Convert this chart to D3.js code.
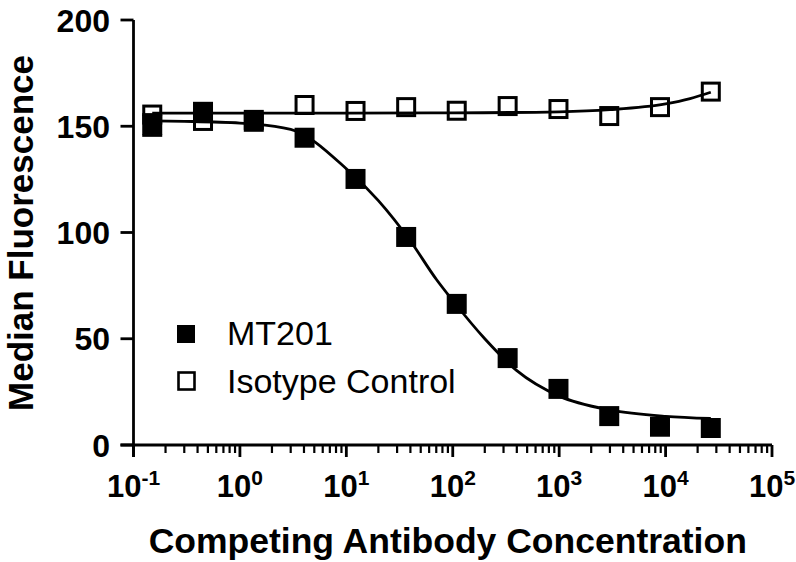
<!DOCTYPE html>
<html>
<head>
<meta charset="utf-8">
<script src="https://cdn.jsdelivr.net/npm/d3@7"></script>
<style>
  body { margin: 0; background: #fff; }
  svg { display: block; }
  text { font-family: "Liberation Sans", Arial, Helvetica, sans-serif; fill: #000; }
</style>
</head>
<body>
<svg id="chart" width="796" height="562"></svg>
<script>
// concentrations (3-fold dilution series)
const concentrations = [0.15, 0.45, 1.35, 4.05, 12.2, 36.5, 109, 328, 985, 2955, 8860, 26600]

// median fluorescence
const mt201 = [150.6, 156.8, 152.1, 144.6, 125.2, 97.9, 66.4, 40.9, 26.4, 13.6, 8.6, 8.0]
const mt201Err = [5, 0, 0, 0, 0, 0, 0, 0, 0, 0, 0, 0]
const isotype = [155.5, 152.5, 153, 160, 157.2, 159, 157.3, 159.5, 158.1, 154.8, 159, 166.3]

// fitted curves
const mt201CurveX = [0.15, 0.3, 1, 3, 10, 20, 40, 70, 100, 200, 400, 1000, 3000, 10000, 26600]
const mt201CurveY = [152.5, 152.3, 151.5, 148.5, 130, 115, 96, 78, 68, 50, 35, 23, 16.5, 13.5, 12.5]
const isoCurveX = [0.15, 1, 10, 100, 1000, 3000, 10000, 17000, 26600]
const isoCurveY = [156.2, 156.2, 156.2, 156.3, 156.8, 157.8, 160.5, 163, 166]

const yTicks = [0, 50, 100, 150, 200]
const xExponents = [-1, 0, 1, 2, 3, 4, 5]

const legendLabels = ["MT201", "Isotype Control"]

const svg = d3.select("#chart")
const margin = { left: 133.5, right: 24, top: 20, bottom: 117 }
const W = 796, H = 562

const x = d3.scaleLog().domain([0.1, 1e5]).range([margin.left, W - margin.right])
const y = d3.scaleLinear().domain([0, 200]).range([H - margin.bottom, margin.top])

// y axis
const yAxis = svg.append("g")
yAxis.append("line")
    .attr("x1", x(0.1)).attr("x2", x(0.1))
    .attr("y1", y(200)).attr("y2", y(0) + 12)
    .attr("stroke", "#000").attr("stroke-width", 2.8)
yAxis.selectAll(".yt")
    .data(yTicks)
    .enter()
    .append("line")
    .attr("x1", x(0.1) - 13).attr("x2", x(0.1))
    .attr("y1", d => y(d)).attr("y2", d => y(d))
    .attr("stroke", "#000").attr("stroke-width", 2.8)
yAxis.selectAll(".yl")
    .data(yTicks)
    .enter()
    .append("text")
    .attr("x", 110)
    .attr("y", d => y(d))
    .attr("dy", "0.36em")
    .attr("text-anchor", "end")
    .attr("font-size", 32)
    .attr("font-weight", "bold")
    .text(d => d)

// x axis
const xAxis = svg.append("g")
xAxis.append("line")
    .attr("x1", x(0.1) - 13).attr("x2", x(1e5))
    .attr("y1", y(0)).attr("y2", y(0))
    .attr("stroke", "#000").attr("stroke-width", 2.8)

let minorTicks = []
for (let e = -1; e < 5; e++) {
    for (let m = 2; m <= 9; m++) minorTicks.push(m * Math.pow(10, e))
}
xAxis.selectAll(".mn")
    .data(minorTicks)
    .enter()
    .append("line")
    .attr("x1", d => x(d)).attr("x2", d => x(d))
    .attr("y1", y(0)).attr("y2", y(0) + 8)
    .attr("stroke", "#000").attr("stroke-width", 2.2)
xAxis.selectAll(".mj")
    .data(xExponents)
    .enter()
    .append("line")
    .attr("x1", d => x(Math.pow(10, d))).attr("x2", d => x(Math.pow(10, d)))
    .attr("y1", y(0)).attr("y2", y(0) + 12)
    .attr("stroke", "#000").attr("stroke-width", 2.8)

const xl = xAxis.selectAll(".xl")
    .data(xExponents)
    .enter()
    .append("text")
    .attr("x", d => x(Math.pow(10, d)))
    .attr("y", 497)
    .attr("text-anchor", "middle")
    .attr("font-weight", "bold")
xl.append("tspan").attr("font-size", 31).text("10")
xl.append("tspan").attr("font-size", 21).attr("dy", -12).text(d => d)

// axis titles
svg.append("text")
    .attr("x", (x(0.1) + x(1e5)) / 2 - 5)
    .attr("y", 553)
    .attr("text-anchor", "middle")
    .attr("font-size", 35.5)
    .attr("font-weight", "bold")
    .text("Competing Antibody Concentration")

svg.append("text")
    .attr("transform", "translate(33," + 233 + ") rotate(-90)")
    .attr("text-anchor", "middle")
    .attr("font-size", 35)
    .attr("font-weight", "bold")
    .text("Median Fluorescence")

// curves
const line = d3.line()
    .x(d => x(d[0]))
    .y(d => y(d[1]))
    .curve(d3.curveMonotoneX)

svg.append("path")
    .datum(d3.zip(isoCurveX, isoCurveY))
    .attr("d", line)
    .attr("fill", "none").attr("stroke", "#000").attr("stroke-width", 2.8)

svg.append("path")
    .datum(d3.zip(mt201CurveX, mt201CurveY))
    .attr("d", line)
    .attr("fill", "none").attr("stroke", "#000").attr("stroke-width", 2.8)

// isotype markers (open)
svg.selectAll(".iso")
    .data(d3.zip(concentrations, isotype))
    .enter()
    .append("rect")
    .attr("x", d => x(d[0]) - 8.5)
    .attr("y", d => y(d[1]) - 8.5)
    .attr("width", 17).attr("height", 17)
    .attr("fill", "none")
    .attr("stroke", "#000").attr("stroke-width", 3)

// MT201 error bars
const errData = d3.zip(concentrations, mt201, mt201Err).filter(d => d[2] > 0)
const eb = svg.selectAll(".eb").data(errData).enter().append("g")
eb.append("line")
    .attr("x1", d => x(d[0])).attr("x2", d => x(d[0]))
    .attr("y1", d => y(d[1] + d[2])).attr("y2", d => y(d[1] - d[2]))
    .attr("stroke", "#000").attr("stroke-width", 2.5)
eb.selectAll(".cap")
    .data(d => [[d[0], d[1] + d[2]], [d[0], d[1] - d[2]]])
    .enter()
    .append("line")
    .attr("x1", d => x(d[0]) - 10).attr("x2", d => x(d[0]) + 10)
    .attr("y1", d => y(d[1])).attr("y2", d => y(d[1]))
    .attr("stroke", "#000").attr("stroke-width", 2.5)

// MT201 markers (filled)
svg.selectAll(".mt")
    .data(d3.zip(concentrations, mt201))
    .enter()
    .append("rect")
    .attr("x", d => x(d[0]) - 10)
    .attr("y", d => y(d[1]) - 10)
    .attr("width", 20).attr("height", 20)
    .attr("fill", "#000")

// legend
const legend = svg.append("g")
legend.append("rect")
    .attr("x", 177).attr("y", 325).attr("width", 18).attr("height", 18)
    .attr("fill", "#000")
legend.append("rect")
    .attr("x", 178.5).attr("y", 372.5).attr("width", 16).attr("height", 17)
    .attr("fill", "none").attr("stroke", "#000").attr("stroke-width", 2.6)
legend.selectAll("text")
    .data(legendLabels)
    .enter()
    .append("text")
    .attr("x", 227)
    .attr("y", (d, i) => 345 + i * 48)
    .attr("font-size", 34)
    .text(d => d)
</script>
</body>
</html>
